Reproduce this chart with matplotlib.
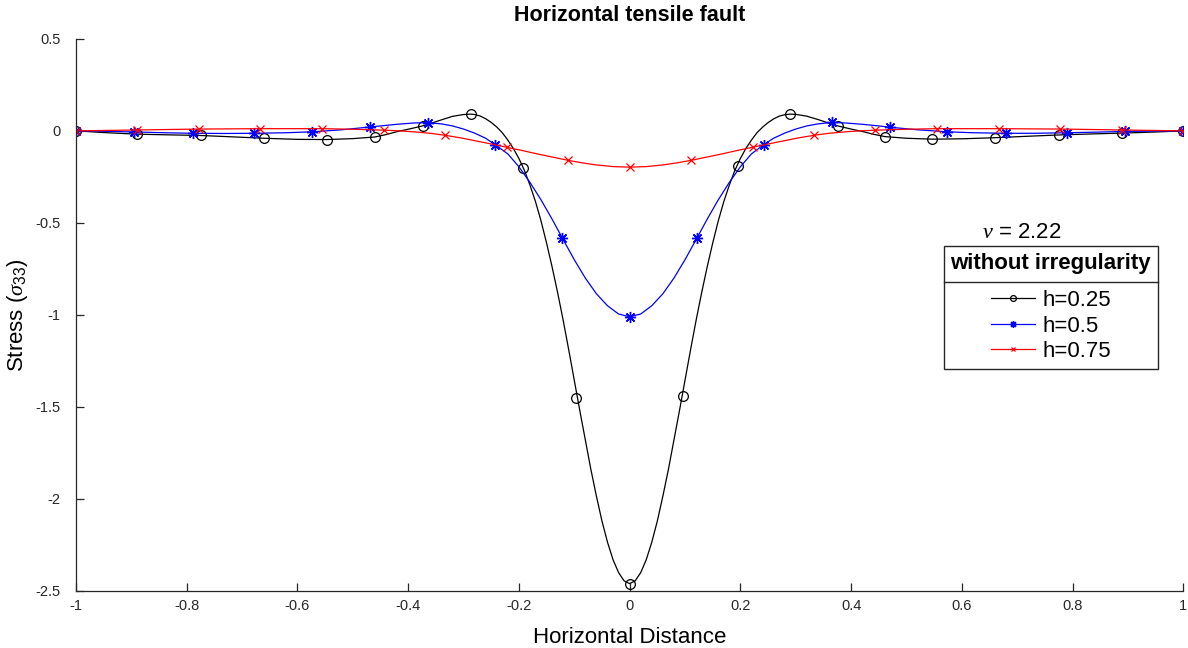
# Horizontal tensile fault - stress sigma_33 along the surface

import matplotlib
matplotlib.use("Agg")
import matplotlib.pyplot as plt
from matplotlib.lines import Line2D

plt.rcParams['font.family'] = ['Liberation Sans', 'DejaVu Sans']
plt.rcParams['axes.unicode_minus'] = False
plt.rcParams['mathtext.fontset'] = 'custom'
plt.rcParams['mathtext.rm'] = 'Liberation Sans'
plt.rcParams['mathtext.it'] = 'Liberation Serif:italic'

# curve values (h = 0.25)
black_x = [-1.0, -0.95, -0.889, -0.84, -0.775, -0.72, -0.661, -0.60, -0.547, -0.50,
           -0.46, -0.44, -0.42, -0.40, -0.374, -0.36, -0.34, -0.32, -0.30, -0.287,
           -0.28, -0.27, -0.26, -0.25, -0.24, -0.23, -0.22, -0.21, -0.20, -0.19,
           -0.18, -0.17, -0.16, -0.15, -0.14, -0.13, -0.12, -0.11, -0.10, -0.09,
           -0.08, -0.07, -0.06, -0.05, -0.04, -0.03, -0.02, -0.01,
           0.0, 0.01, 0.02, 0.03, 0.04, 0.05, 0.06, 0.07, 0.08, 0.09,
           0.10, 0.11, 0.12, 0.13, 0.14, 0.15, 0.16, 0.17, 0.18, 0.19,
           0.20, 0.21, 0.22, 0.23, 0.24, 0.25, 0.26, 0.27, 0.28, 0.29, 0.30,
           0.32, 0.34, 0.36, 0.376, 0.40, 0.42, 0.44, 0.461, 0.50, 0.547,
           0.60, 0.66, 0.72, 0.776, 0.84, 0.889, 0.95, 1.0]
black_y = [0.0, -0.009, -0.018, -0.021, -0.025, -0.032, -0.040, -0.046, -0.047, -0.042,
           -0.033, -0.020, -0.004, 0.009, 0.027, 0.040, 0.060, 0.079, 0.089, 0.091,
           0.089, 0.081, 0.066, 0.046, 0.021, -0.010, -0.050, -0.096, -0.150, -0.215,
           -0.295, -0.385, -0.49, -0.61, -0.74, -0.88, -1.03, -1.19, -1.355, -1.52,
           -1.68, -1.84, -1.985, -2.12, -2.235, -2.33, -2.40, -2.445,
           -2.46, -2.445, -2.40, -2.33, -2.235, -2.12, -1.985, -1.84, -1.68, -1.52,
           -1.355, -1.19, -1.03, -0.88, -0.74, -0.61, -0.49, -0.385, -0.295, -0.215,
           -0.15, -0.095, -0.05, -0.01, 0.02, 0.045, 0.065, 0.08, 0.088, 0.091, 0.09,
           0.08, 0.062, 0.042, 0.027, 0.01, -0.003, -0.018, -0.031, -0.040, -0.045,
           -0.043, -0.037, -0.029, -0.022, -0.016, -0.012, -0.006, 0.0]
black_mx = [-1.0, -0.889, -0.775, -0.661, -0.547, -0.460, -0.374, -0.287, -0.193, -0.096, 0.0,
            0.096, 0.195, 0.290, 0.376, 0.461, 0.547, 0.660, 0.776, 0.889, 1.0]
black_my = [0.0, -0.018, -0.025, -0.040, -0.047, -0.033, 0.027, 0.091, -0.20, -1.45, -2.46,
            -1.44, -0.19, 0.091, 0.027, -0.031, -0.043, -0.036, -0.022, -0.013, 0.0]

# h = 0.5
blue_x = [-1.0, -0.95, -0.895, -0.84, -0.79, -0.73, -0.68, -0.62, -0.574, -0.52,
          -0.47, -0.45, -0.42, -0.39, -0.365, -0.34, -0.32, -0.30, -0.28, -0.26,
          -0.243, -0.22, -0.20, -0.18, -0.16, -0.14, -0.122, -0.10, -0.08, -0.06,
          -0.04, -0.02,
          0.0, 0.02, 0.04, 0.06, 0.08, 0.10, 0.122, 0.14, 0.16, 0.18,
          0.20, 0.22, 0.242, 0.26, 0.28, 0.30, 0.32, 0.34, 0.365, 0.39,
          0.42, 0.45, 0.47, 0.52, 0.574, 0.62, 0.68, 0.73, 0.79, 0.84,
          0.895, 0.95, 1.0]
blue_y = [0.0, -0.002, -0.006, -0.010, -0.013, -0.014, -0.013, -0.010, -0.005, 0.006,
          0.021, 0.027, 0.036, 0.043, 0.045, 0.038, 0.027, 0.010, -0.012, -0.040,
          -0.075, -0.125, -0.195, -0.28, -0.375, -0.48, -0.58, -0.70, -0.80, -0.885,
          -0.95, -0.995,
          -1.01, -0.995, -0.95, -0.885, -0.80, -0.70, -0.58, -0.48, -0.375, -0.28,
          -0.195, -0.125, -0.075, -0.040, -0.012, 0.010, 0.027, 0.038, 0.046, 0.043,
          0.036, 0.027, 0.020, 0.006, -0.005, -0.010, -0.013, -0.013, -0.010, -0.007,
          -0.003, -0.001, 0.0]
blue_mx = [-1.0, -0.896, -0.789, -0.679, -0.573, -0.469, -0.365, -0.243, -0.122, 0.0,
           0.122, 0.242, 0.365, 0.470, 0.574, 0.680, 0.790, 0.895, 1.0]
blue_my = [0.0, -0.006, -0.013, -0.013, -0.005, 0.021, 0.045, -0.075, -0.58, -1.01,
           -0.58, -0.075, 0.046, 0.020, -0.005, -0.013, -0.010, -0.003, 0.0]

# h = 0.75
red_x = [-1.0, -0.889, -0.778, -0.667, -0.61, -0.556, -0.50, -0.444, -0.415, -0.39,
         -0.36, -0.333, -0.305, -0.28, -0.25, -0.222, -0.195, -0.17, -0.14, -0.111,
         -0.085, -0.06, -0.03, 0.0, 0.03, 0.06, 0.085, 0.111, 0.14, 0.17,
         0.195, 0.222, 0.25, 0.28, 0.305, 0.333, 0.36, 0.39, 0.415, 0.444,
         0.50, 0.556, 0.61, 0.667, 0.778, 0.889, 1.0]
red_y = [0.0, 0.005, 0.010, 0.012, 0.012, 0.012, 0.009, 0.004, 0.0, -0.005,
         -0.013, -0.024, -0.038, -0.053, -0.071, -0.089, -0.106, -0.123, -0.142, -0.160,
         -0.174, -0.185, -0.194, -0.197, -0.194, -0.185, -0.174, -0.160, -0.142, -0.123,
         -0.106, -0.089, -0.071, -0.053, -0.038, -0.024, -0.013, -0.005, 0.0, 0.004,
         0.009, 0.012, 0.012, 0.012, 0.010, 0.005, 0.0]
red_mx = [-1.0, -0.889, -0.778, -0.667, -0.556, -0.444, -0.333, -0.222, -0.111, 0.0,
          0.111, 0.222, 0.333, 0.444, 0.556, 0.667, 0.778, 0.889, 1.0]
red_my = [0.0, 0.005, 0.010, 0.012, 0.012, 0.004, -0.024, -0.089, -0.160, -0.197,
          -0.160, -0.089, -0.024, 0.004, 0.012, 0.012, 0.010, 0.005, 0.0]

labels = ["h=0.25", "h=0.5", "h=0.75"]
xticks = [-1, -0.8, -0.6, -0.4, -0.2, 0, 0.2, 0.4, 0.6, 0.8, 1]
xtick_labels = ["-1", "-0.8", "-0.6", "-0.4", "-0.2", "0", "0.2", "0.4", "0.6", "0.8", "1"]
yticks = [-2.5, -2, -1.5, -1, -0.5, 0, 0.5]
ytick_labels = ["-2.5", "-2", "-1.5", "-1", "-0.5", "0", "0.5"]

fig = plt.figure(figsize=(11.88, 6.48), dpi=100)
ax = fig.add_axes([0.064, 0.088, 0.932, 0.852])

# matlab-like asterisk marker for h=0.5
asterisk = (8, 2, 0)

l1, = ax.plot(black_x, black_y, color='k', lw=0.9)
m1, = ax.plot(black_mx, black_my, 'o', ls='none', mfc='none', mec='k', ms=7, mew=0.9)
l2, = ax.plot(blue_x, blue_y, color='b', lw=0.9)
m2, = ax.plot(blue_mx, blue_my, marker=asterisk, ls='none', color='b', ms=8, mew=1.0)
l3, = ax.plot(red_x, red_y, color='r', lw=0.9)
m3, = ax.plot(red_mx, red_my, 'x', ls='none', color='r', ms=6, mew=0.9)

ax.set_xlim(-1, 1)
ax.set_ylim(-2.5, 0.5)
ax.set_xticks(xticks)
ax.set_xticklabels(xtick_labels)
ax.set_yticks(yticks)
ax.set_yticklabels(ytick_labels)
ax.tick_params(axis='both', direction='in', length=6, width=0.9, labelsize=10.5, colors='#262626')
ax.tick_params(axis='x', pad=6)
ax.tick_params(axis='y', pad=11)
for s in ['top', 'right']:
    ax.spines[s].set_visible(False)
for s in ['left', 'bottom']:
    ax.spines[s].set_color('#262626')
    ax.spines[s].set_linewidth(0.9)

ax.set_title("Horizontal tensile fault", fontsize=15.5, fontweight='bold', pad=13)
ax.set_xlabel("Horizontal Distance", fontsize=16, labelpad=10)
ax.set_ylabel(r"Stress ($\sigma_{33}$)", fontsize=16, labelpad=4)

ax.text(0.818, 0.649, r"$\nu$ = 2.22", transform=ax.transAxes, fontsize=16, ha='left', va='center')

leg = ax.legend([(l1, m1), (l2, m2), (l3, m3)], labels, loc='upper right',
                bbox_to_anchor=(0.977, 0.625), borderaxespad=0, fontsize=16,
                title="without irregularity", title_fontproperties={'weight': 'bold', 'size': 16},
                fancybox=False, framealpha=1, edgecolor='#262626', markerscale=0.6,
                handlelength=2.0, handletextpad=0.3, labelspacing=0.2, borderpad=0.3)
leg.get_frame().set_linewidth(1.0)
leg._legend_box.sep = 12  # more room between title and entries

# separator line under the legend title
fig.canvas.draw()
lb = leg.get_window_extent()
tb = leg.get_title().get_window_extent()
eb = leg.get_texts()[0].get_window_extent()
ysep = (tb.y0 + eb.y1) / 2
inv = fig.transFigure.inverted()
x0, y0 = inv.transform((lb.x0, ysep))
x1, _ = inv.transform((lb.x1, ysep))
fig.add_artist(Line2D([x0, x1], [y0, y0], transform=fig.transFigure, color='#262626', lw=1.0))

fig.savefig("out.png", dpi=100)
